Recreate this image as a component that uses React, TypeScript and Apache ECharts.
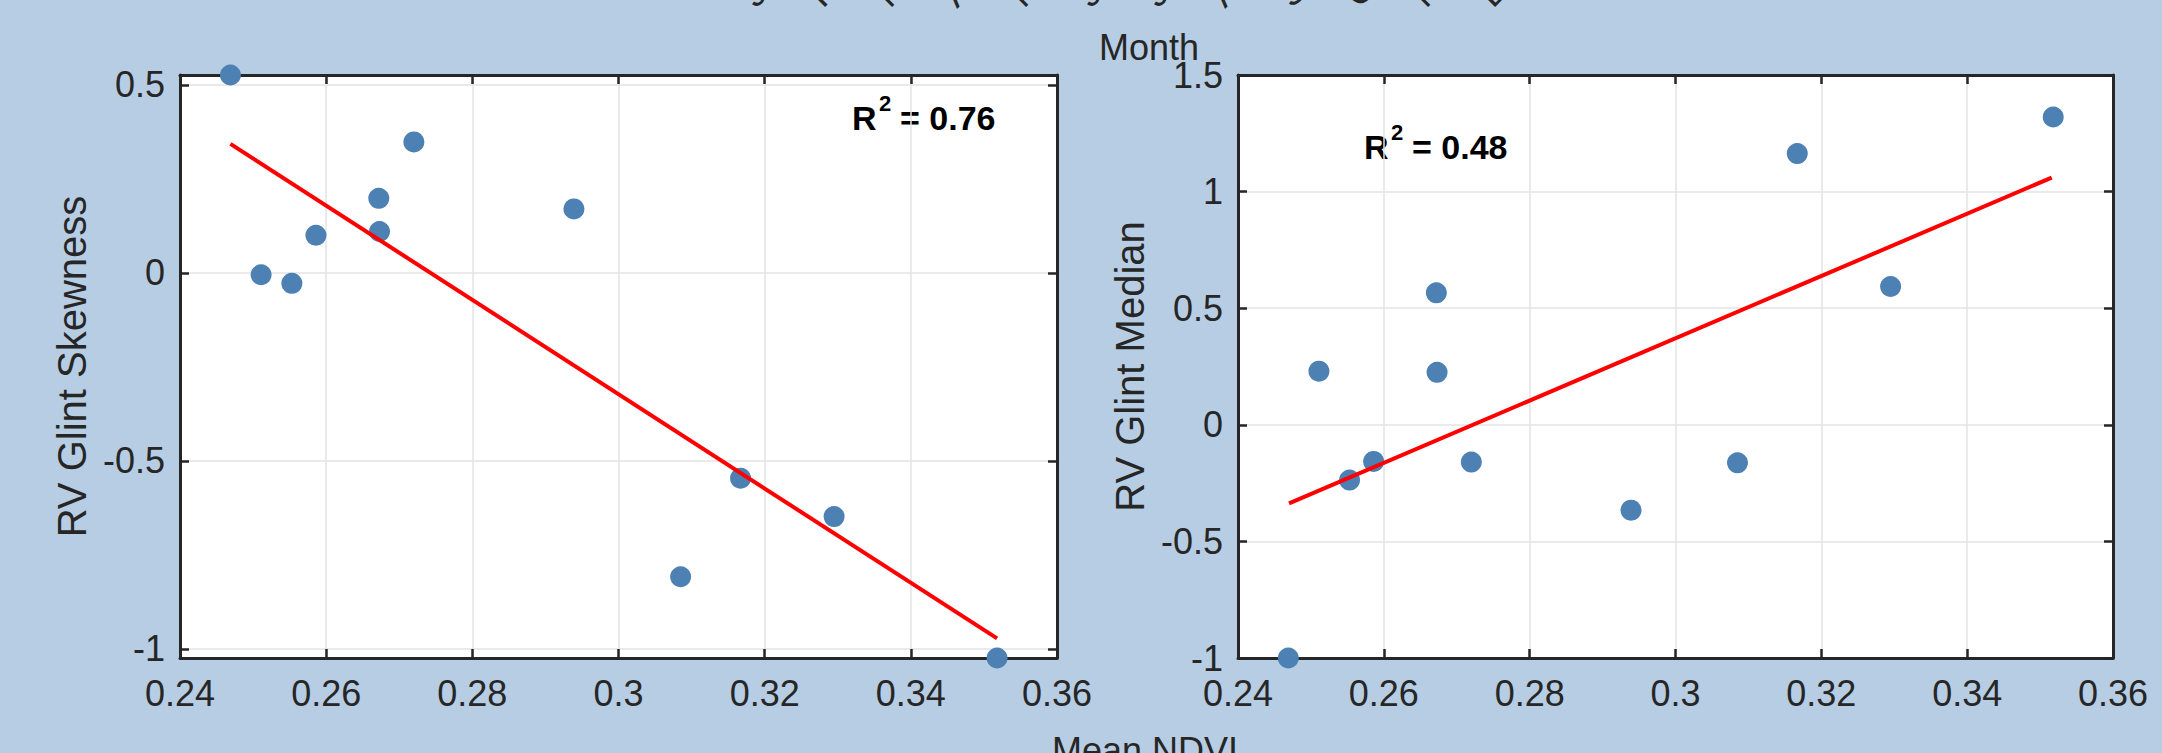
import { useEffect, useRef } from "react";
import * as echarts from "echarts";

// ---- data ----
const meanNdvi = [0.2469, 0.2511, 0.2553, 0.2586, 0.2672, 0.2673, 0.272, 0.2939, 0.3085, 0.3167, 0.3295, 0.3518];
const glintSkewness = [0.526, -0.005, -0.028, 0.1, 0.198, 0.11, 0.348, 0.17, -0.808, -0.546, -0.648, -1.024];
const glintMedian = [-1.0, 0.23, -0.237, -0.157, 0.566, 0.225, -0.16, -0.366, -0.163, 1.163, 0.593, 1.32];

const skewFitX = [0.2469, 0.3518];
const skewFitY = [0.343, -0.972];
const medianFitX = [0.247, 0.3516];
const medianFitY = [-0.337, 1.06];

const skewR2 = "0.76";
const medianR2 = "0.48";

const xTicksMin = 0.24;
const xTicksMax = 0.36;
const xTickStep = 0.02;

const skewYMin = -1.024;
const skewYMax = 0.526;
const medianYMin = -1;
const medianYMax = 1.5;
const yTickStep = 0.5;

// tick labels of a panel above, cut off at the top edge
const monthLabels = ["Jan", "Feb", "Mar", "Apr", "May", "Jun", "Jul", "Aug", "Sep", "Oct", "Nov", "Dec"];

const DARK = "#262626";
const FONT = "'Liberation Sans', Arial, sans-serif";
const BG = "#B7CDE3";
const MARKER = "#4D80B3";

export default function App() {
  const ref = useRef<HTMLDivElement>(null);

  useEffect(() => {
    if (!ref.current) return;
    const chart = echarts.init(ref.current, null, { renderer: "svg" });

    const grids = [
      { left: 180, top: 75, width: 877, height: 583 },
      { left: 1238, top: 75, width: 875, height: 583 },
    ];

    const line = { show: true, onZero: false, lineStyle: { color: DARK, width: 3 } };
    const tick = { show: true, inside: true, length: 9, lineStyle: { color: DARK, width: 2.5 } };
    const split = { show: true, lineStyle: { color: "#e3e3e3", width: 1.5 } };
    const label = { fontSize: 36, color: DARK, fontFamily: FONT };

    const mkX = (g: number) => [
      {
        gridIndex: g, type: "value", position: "bottom", min: xTicksMin, max: xTicksMax, interval: xTickStep,
        axisLine: line, axisTick: tick, splitLine: split,
        axisLabel: { ...label, margin: 17 },
      },
      {
        gridIndex: g, type: "value", position: "top", min: xTicksMin, max: xTicksMax, interval: xTickStep,
        axisLine: line, axisTick: tick, splitLine: { show: false }, axisLabel: { show: false },
      },
    ];

    const mkY = (g: number, min: number, max: number, name: string, split3: boolean) => {
      const scale: any = split3 ? { min, max, splitNumber: 3 } : { min, max, interval: yTickStep };
      return [
        {
          gridIndex: g, type: "value", position: "left", ...scale,
          axisLine: line, axisTick: tick, splitLine: split,
          axisLabel: { ...label, margin: 15, showMinLabel: !split3, showMaxLabel: !split3 },
          name, nameLocation: "middle", nameGap: 88,
          nameTextStyle: { fontSize: 40, color: DARK, fontFamily: FONT },
        },
        {
          gridIndex: g, type: "value", position: "right", ...scale,
          axisLine: line, axisTick: tick, splitLine: { show: false }, axisLabel: { show: false },
        },
      ];
    };

    const r2Texts = (xR: number, yc: number, val: string) => [
      { type: "text", x: xR, y: yc, style: { text: "R", font: `bold 34px ${FONT}`, fill: "#000", align: "left", verticalAlign: "middle" } },
      { type: "text", x: xR + 27, y: yc - 15, style: { text: "2", font: `bold 22px ${FONT}`, fill: "#000", verticalAlign: "middle", align: "left" } },
      { type: "text", x: xR + 48, y: yc, style: { text: "= " + val, font: `bold 34px ${FONT}`, fill: "#000", verticalAlign: "middle", align: "left" } },
    ];

    const monthTexts = monthLabels.map((m, i) => ({
      type: "text",
      x: 760 + i * 67,
      y: 13,
      rotation: Math.PI / 4,
      style: { text: m, font: `36px ${FONT}`, fill: DARK, align: "left", verticalAlign: "bottom" },
    }));

    const option: any = {
      animation: false,
      backgroundColor: BG,
      grid: grids.map((g) => ({
        ...g, show: true, backgroundColor: "#ffffff", borderWidth: 0,
      })),
      xAxis: [...mkX(0), ...mkX(1)],
      yAxis: [
        ...mkY(0, skewYMin, skewYMax, "RV Glint Skewness", true),
        ...mkY(1, medianYMin, medianYMax, "RV Glint Median", false),
      ],
      series: [
        {
          type: "scatter", xAxisIndex: 0, yAxisIndex: 0, clip: false, z: 4,
          symbolSize: 21, itemStyle: { color: MARKER, opacity: 1 },
          data: meanNdvi.map((x, i) => [x, glintSkewness[i]]),
        },
        {
          type: "line", xAxisIndex: 0, yAxisIndex: 0, z: 5, showSymbol: false, symbol: "none",
          lineStyle: { color: "#ff0000", width: 4 },
          data: skewFitX.map((x, i) => [x, skewFitY[i]]),
        },
        {
          type: "scatter", xAxisIndex: 2, yAxisIndex: 2, clip: false, z: 4,
          symbolSize: 21, itemStyle: { color: MARKER, opacity: 1 },
          data: meanNdvi.map((x, i) => [x, glintMedian[i]]),
        },
        {
          type: "line", xAxisIndex: 2, yAxisIndex: 2, z: 5, showSymbol: false, symbol: "none",
          lineStyle: { color: "#ff0000", width: 4 },
          data: medianFitX.map((x, i) => [x, medianFitY[i]]),
        },
      ],
      graphic: [
        ...r2Texts(852, 118, skewR2),
        ...r2Texts(1364, 147, medianR2),
        { type: "text", x: 1149, y: 47, style: { text: "Month", font: `36px ${FONT}`, fill: DARK, align: "center", verticalAlign: "middle" } },
        { type: "text", x: 1145, y: 750, style: { text: "Mean NDVI", font: `36px ${FONT}`, fill: DARK, align: "center", verticalAlign: "middle" } },
        ...monthTexts,
      ],
    };

    chart.setOption(option);
    return () => chart.dispose();
  }, []);

  return (
    <div
      ref={ref}
      style={{ position: "fixed", left: 0, top: 0, width: "2162px", height: "753px" }}
    />
  );
}
